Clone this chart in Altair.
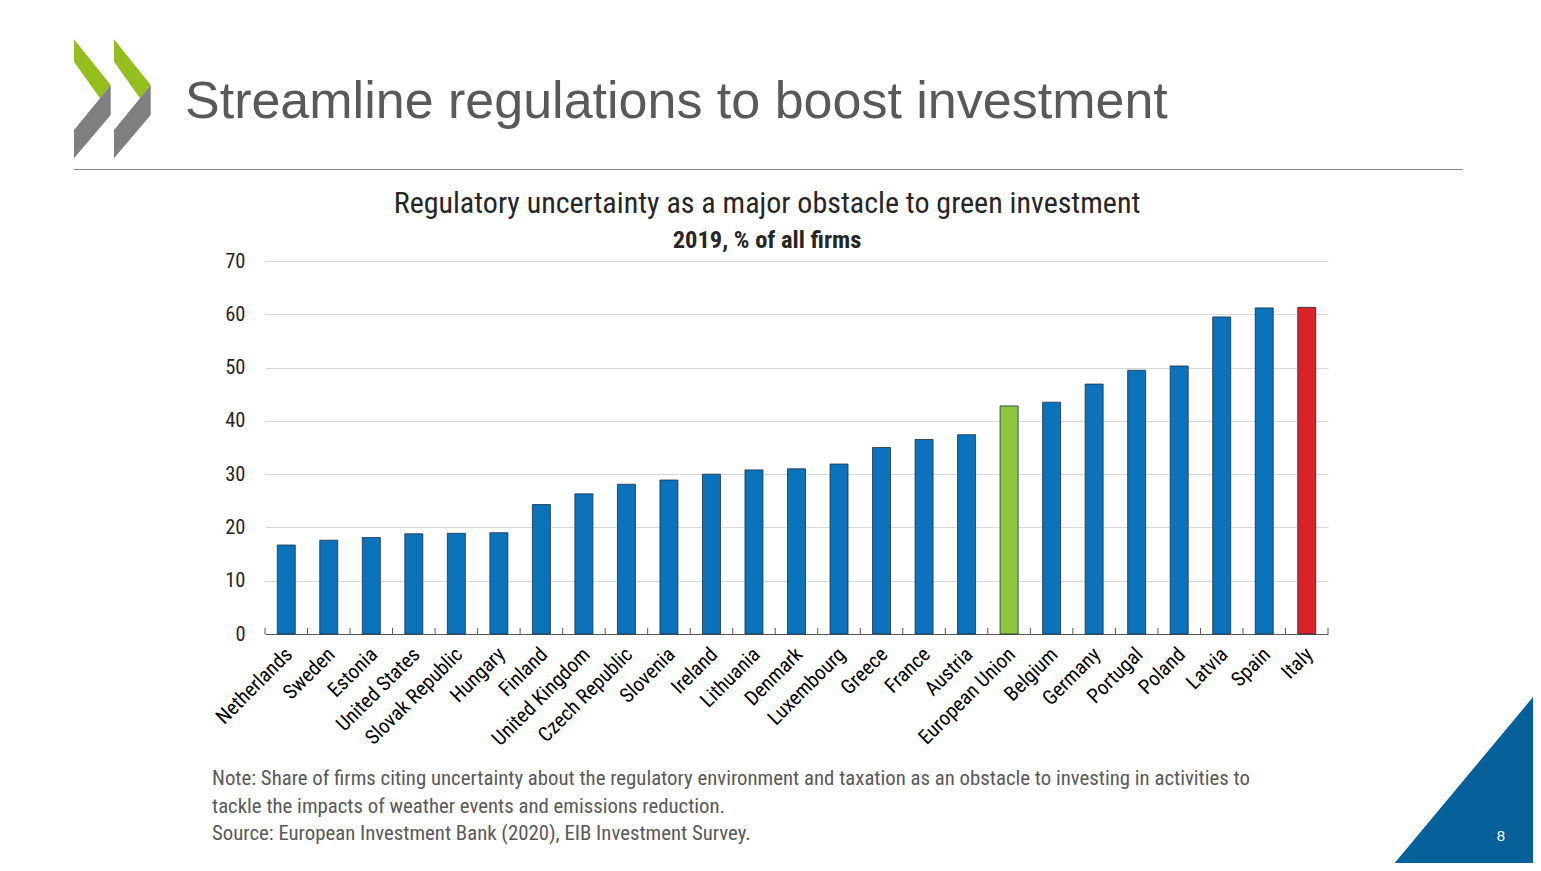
import altair as alt
import pandas as pd

countries = ["Netherlands", "Sweden", "Estonia", "United States", "Slovak Republic", "Hungary",
             "Finland", "United Kingdom", "Czech Republic", "Slovenia", "Ireland", "Lithuania",
             "Denmark", "Luxembourg", "Greece", "France", "Austria", "European Union", "Belgium",
             "Germany", "Portugal", "Poland", "Latvia", "Spain", "Italy"]
values = [16.7, 17.6, 18.1, 18.8, 18.9, 19.0, 24.3, 26.3, 28.1, 28.9, 30.0, 30.8, 31.0, 31.9,
          35.0, 36.5, 37.4, 42.8, 43.5, 46.9, 49.5, 50.3, 59.5, 61.2, 61.3]
highlight = {"European Union": "#8DC63F", "Italy": "#DA2229"}
base_color = "#0A73BC"
y_ticks = [0, 10, 20, 30, 40, 50, 60, 70]

slide_title = "Streamline regulations to boost investment"
chart_title = "Regulatory uncertainty as a major obstacle to green investment"
chart_subtitle = "2019, % of all firms"
note_lines = ["Note: Share of firms citing uncertainty about the regulatory environment and taxation as an obstacle to investing in activities to",
              "tackle the impacts of weather events and emissions reduction.",
              "Source: European Investment Bank (2020), EIB Investment Survey."]
page_number = "8"

NARROW = "Roboto Condensed, Liberation Sans, sans-serif"
SANS = "Liberation Sans, Arial, sans-serif"

# plot-area origin on the page
OX, OY = 265, 261
W, H = 1063, 373

df = pd.DataFrame({
    "country": countries,
    "value": values,
    "color": [highlight.get(c, base_color) for c in countries],
})
one = pd.DataFrame({"a": [0]})


def px(x):
    return x - OX


def py(y):
    return y - OY


def shape_layer(points, color):
    xs = [p[0] for p in points]
    ys = [p[1] for p in points]
    cx = (min(xs) + max(xs)) / 2
    cy = (min(ys) + max(ys)) / 2
    half = max(max(xs) - min(xs), max(ys) - min(ys)) / 2
    path = "M" + " L".join(f"{(x - cx) / half:.4f},{(y - cy) / half:.4f}" for x, y in points) + " Z"
    return alt.Chart(one).mark_point(
        shape=path, size=(2 * half) ** 2, filled=True, color=color, opacity=1, strokeWidth=0
    ).encode(x=alt.value(px(cx)), y=alt.value(py(cy)))


# invisible frame fixing the page extent
frame = alt.Chart(one).mark_rect(opacity=0).encode(
    x=alt.value(px(8)), x2=alt.value(px(1533)), y=alt.value(py(8)), y2=alt.value(py(863))
)

xenc = alt.X("country:N", sort=countries,
             scale=alt.Scale(paddingInner=0, paddingOuter=0),
             axis=alt.Axis(title=None, labelAngle=-45, labelFont=NARROW, labelFontSize=20.5,
                           labelColor="#000000", ticks=False, domainColor="#595959",
                           domainWidth=1, labelPadding=10, labelOffset=-4, labelAlign="right",
                           labelBaseline="top"))

bars = alt.Chart(df).mark_bar(size=18, stroke="#1B2F45", strokeWidth=0.8).encode(
    x=xenc,
    y=alt.Y("value:Q", scale=alt.Scale(domain=[0, 70], nice=False),
            axis=alt.Axis(title=None, values=y_ticks, grid=True, gridColor="#D9D9D9",
                          gridWidth=1, ticks=False, domain=False, labelFont=NARROW,
                          labelFontSize=20.5, labelColor="#262626", labelPadding=20)),
    color=alt.Color("color:N", scale=None),
)

ticks = alt.Chart(df).mark_rule(color="#595959", strokeWidth=1).encode(
    x=alt.X("country:N", sort=countries, bandPosition=0),
    y=alt.value(H), y2=alt.value(H - 6),
)
last_tick = alt.Chart(df[df.country == countries[-1]]).mark_rule(color="#595959", strokeWidth=1).encode(
    x=alt.X("country:N", sort=countries, bandPosition=1),
    y=alt.value(H), y2=alt.value(H - 6),
)

title_rule = alt.Chart(one).mark_rule(color="#8C8C8C", strokeWidth=1).encode(
    x=alt.value(px(74)), x2=alt.value(px(1463)), y=alt.value(py(169.5))
)

t_slide = alt.Chart(one).mark_text(align="left", baseline="alphabetic", font=SANS,
                                   fontSize=52, color="#58595B").encode(
    x=alt.value(px(185)), y=alt.value(py(118)), text=alt.value(slide_title))
t_chart = alt.Chart(one).mark_text(align="center", baseline="alphabetic", font=NARROW,
                                   fontSize=30, color="#262626").encode(
    x=alt.value(px(767)), y=alt.value(py(213)), text=alt.value(chart_title))
t_sub = alt.Chart(one).mark_text(align="center", baseline="alphabetic", font=NARROW,
                                 fontSize=24.5, fontWeight="bold", color="#262626").encode(
    x=alt.value(px(767)), y=alt.value(py(248)), text=alt.value(chart_subtitle))
t_note = alt.Chart(one).mark_text(align="left", baseline="alphabetic", font=NARROW,
                                  fontSize=20.8, color="#595959", lineHeight=27.5).encode(
    x=alt.value(px(212)), y=alt.value(py(785)), text=alt.value(note_lines))

triangle = shape_layer([(1394.7, 863), (1533, 697), (1533, 863)], "#06609A")
t_page = alt.Chart(one).mark_text(align="center", baseline="alphabetic", font=SANS,
                                  fontSize=15, color="#FFFFFF").encode(
    x=alt.value(px(1501)), y=alt.value(py(841)), text=alt.value(page_number))

green_pts = [(74, 39.3), (110.7, 85), (100, 98.3), (74, 61.7)]
gray_pts = [(110.7, 85), (110.7, 115), (74, 158.3), (74, 130), (100, 98.3)]
logo = []
for dx in (0, 40):
    logo.append(shape_layer([(x + dx, y) for x, y in green_pts], "#93BE1E"))
    logo.append(shape_layer([(x + dx, y) for x, y in gray_pts], "#7F7F7F"))

chart = alt.layer(
    frame, bars, ticks, last_tick, title_rule, t_slide, t_chart, t_sub, t_note,
    triangle, t_page, *logo
).properties(
    width=W, height=H, padding=0, background="white"
).configure_view(stroke=None)

chart.save("out.html", embed_options={"renderer": "svg", "actions": False})
